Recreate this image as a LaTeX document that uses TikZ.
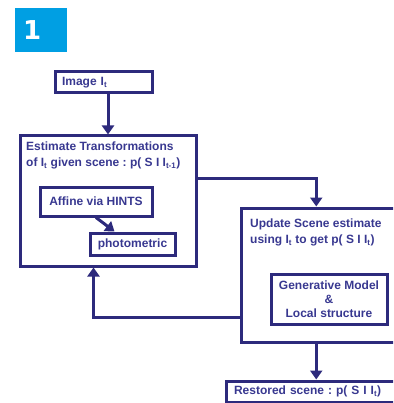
\documentclass[tikz,border=0pt]{standalone}
\usepackage{fontspec}
\setmainfont{Liberation Sans}
\newfontfamily\tabfont{DejaVu Sans}
\usetikzlibrary{arrows.meta}
\frenchspacing
\definecolor{navy}{HTML}{2D2A7C}
\definecolor{ink}{HTML}{383890}
\definecolor{tabc}{HTML}{009FE3}
\tikzset{
  frame/.style={draw=navy, line width=3pt, inner sep=0pt, anchor=north west},
  txt/.style={text=ink, font=\bfseries\fontsize{12}{16}\selectfont, align=left, inner sep=0pt},
  link/.style={draw=navy, line width=3pt, -{Triangle[length=9pt,width=12pt]}},
}
\begin{document}
\begin{tikzpicture}[x=1pt,y=-1pt]
  \useasboundingbox (0,0) rectangle (393,403);
  \clip (0,0) rectangle (393,403);
  % slide tab
  \node[fill=tabc, anchor=north west, minimum width=52pt, minimum height=44pt,
        inner xsep=8pt, text width=36pt, align=left, text=white,
        font=\tabfont\bfseries\fontsize{26}{26}\selectfont] (tab) at (15,8) {1};
  % boxes
  \node[frame, txt, minimum width=97pt, minimum height=21pt, inner xsep=7pt,
        text width=83pt] (img) at (53.5,70.5) {Image I\textsubscript{t}};
  \node[frame, minimum width=176pt, minimum height=130pt] (est) at (18.5,134.5) {};
  \node[txt, anchor=north west] (esttxt) at (26,142) {Estimate Transformations\\
    of I\textsubscript{t} given scene : p( S I I\textsubscript{t-1})};
  \node[frame, txt, minimum width=112pt, minimum height=29pt, align=center]
        (aff) at (38.5,185.5) {Affine via HINTS};
  \node[frame, txt, minimum width=85pt, minimum height=22pt, align=center]
        (photo) at (88.5,231.5) {photometric};
  \node[frame, minimum width=170pt, minimum height=134pt] (upd) at (239.5,206.5) {};
  \node[txt, anchor=north west] (updtxt) at (250,219) {Update Scene estimate\\
    using I\textsubscript{t} to get p( S I I\textsubscript{t})};
  \node[frame, txt, minimum width=116pt, minimum height=50pt, align=center,
        font=\bfseries\fontsize{12}{14}\selectfont]
        (gen) at (269.5,272.5) {Generative Model\\ \&\\ Local structure};
  \node[frame, txt, minimum width=180.5pt, minimum height=21pt, inner xsep=8pt,
        text width=164.5pt] (rest) at (224.5,379.5) {Restored scene : p( S I I\textsubscript{t})};
  % connectors
  \draw[link] (img.south -| est.north) -- (est.north);
  \draw[link] (aff.south) -- ([xshift=-18pt]photo.north);
  \draw[link] ([yshift=22.5pt]est.east) -| (upd.north -| rest.north);
  \draw[link] ([yshift=26.5pt]upd.south west) -| ([xshift=-14.5pt]est.south);
  \draw[link] (upd.south -| rest.north) -- (rest.north);
\end{tikzpicture}
\end{document}
